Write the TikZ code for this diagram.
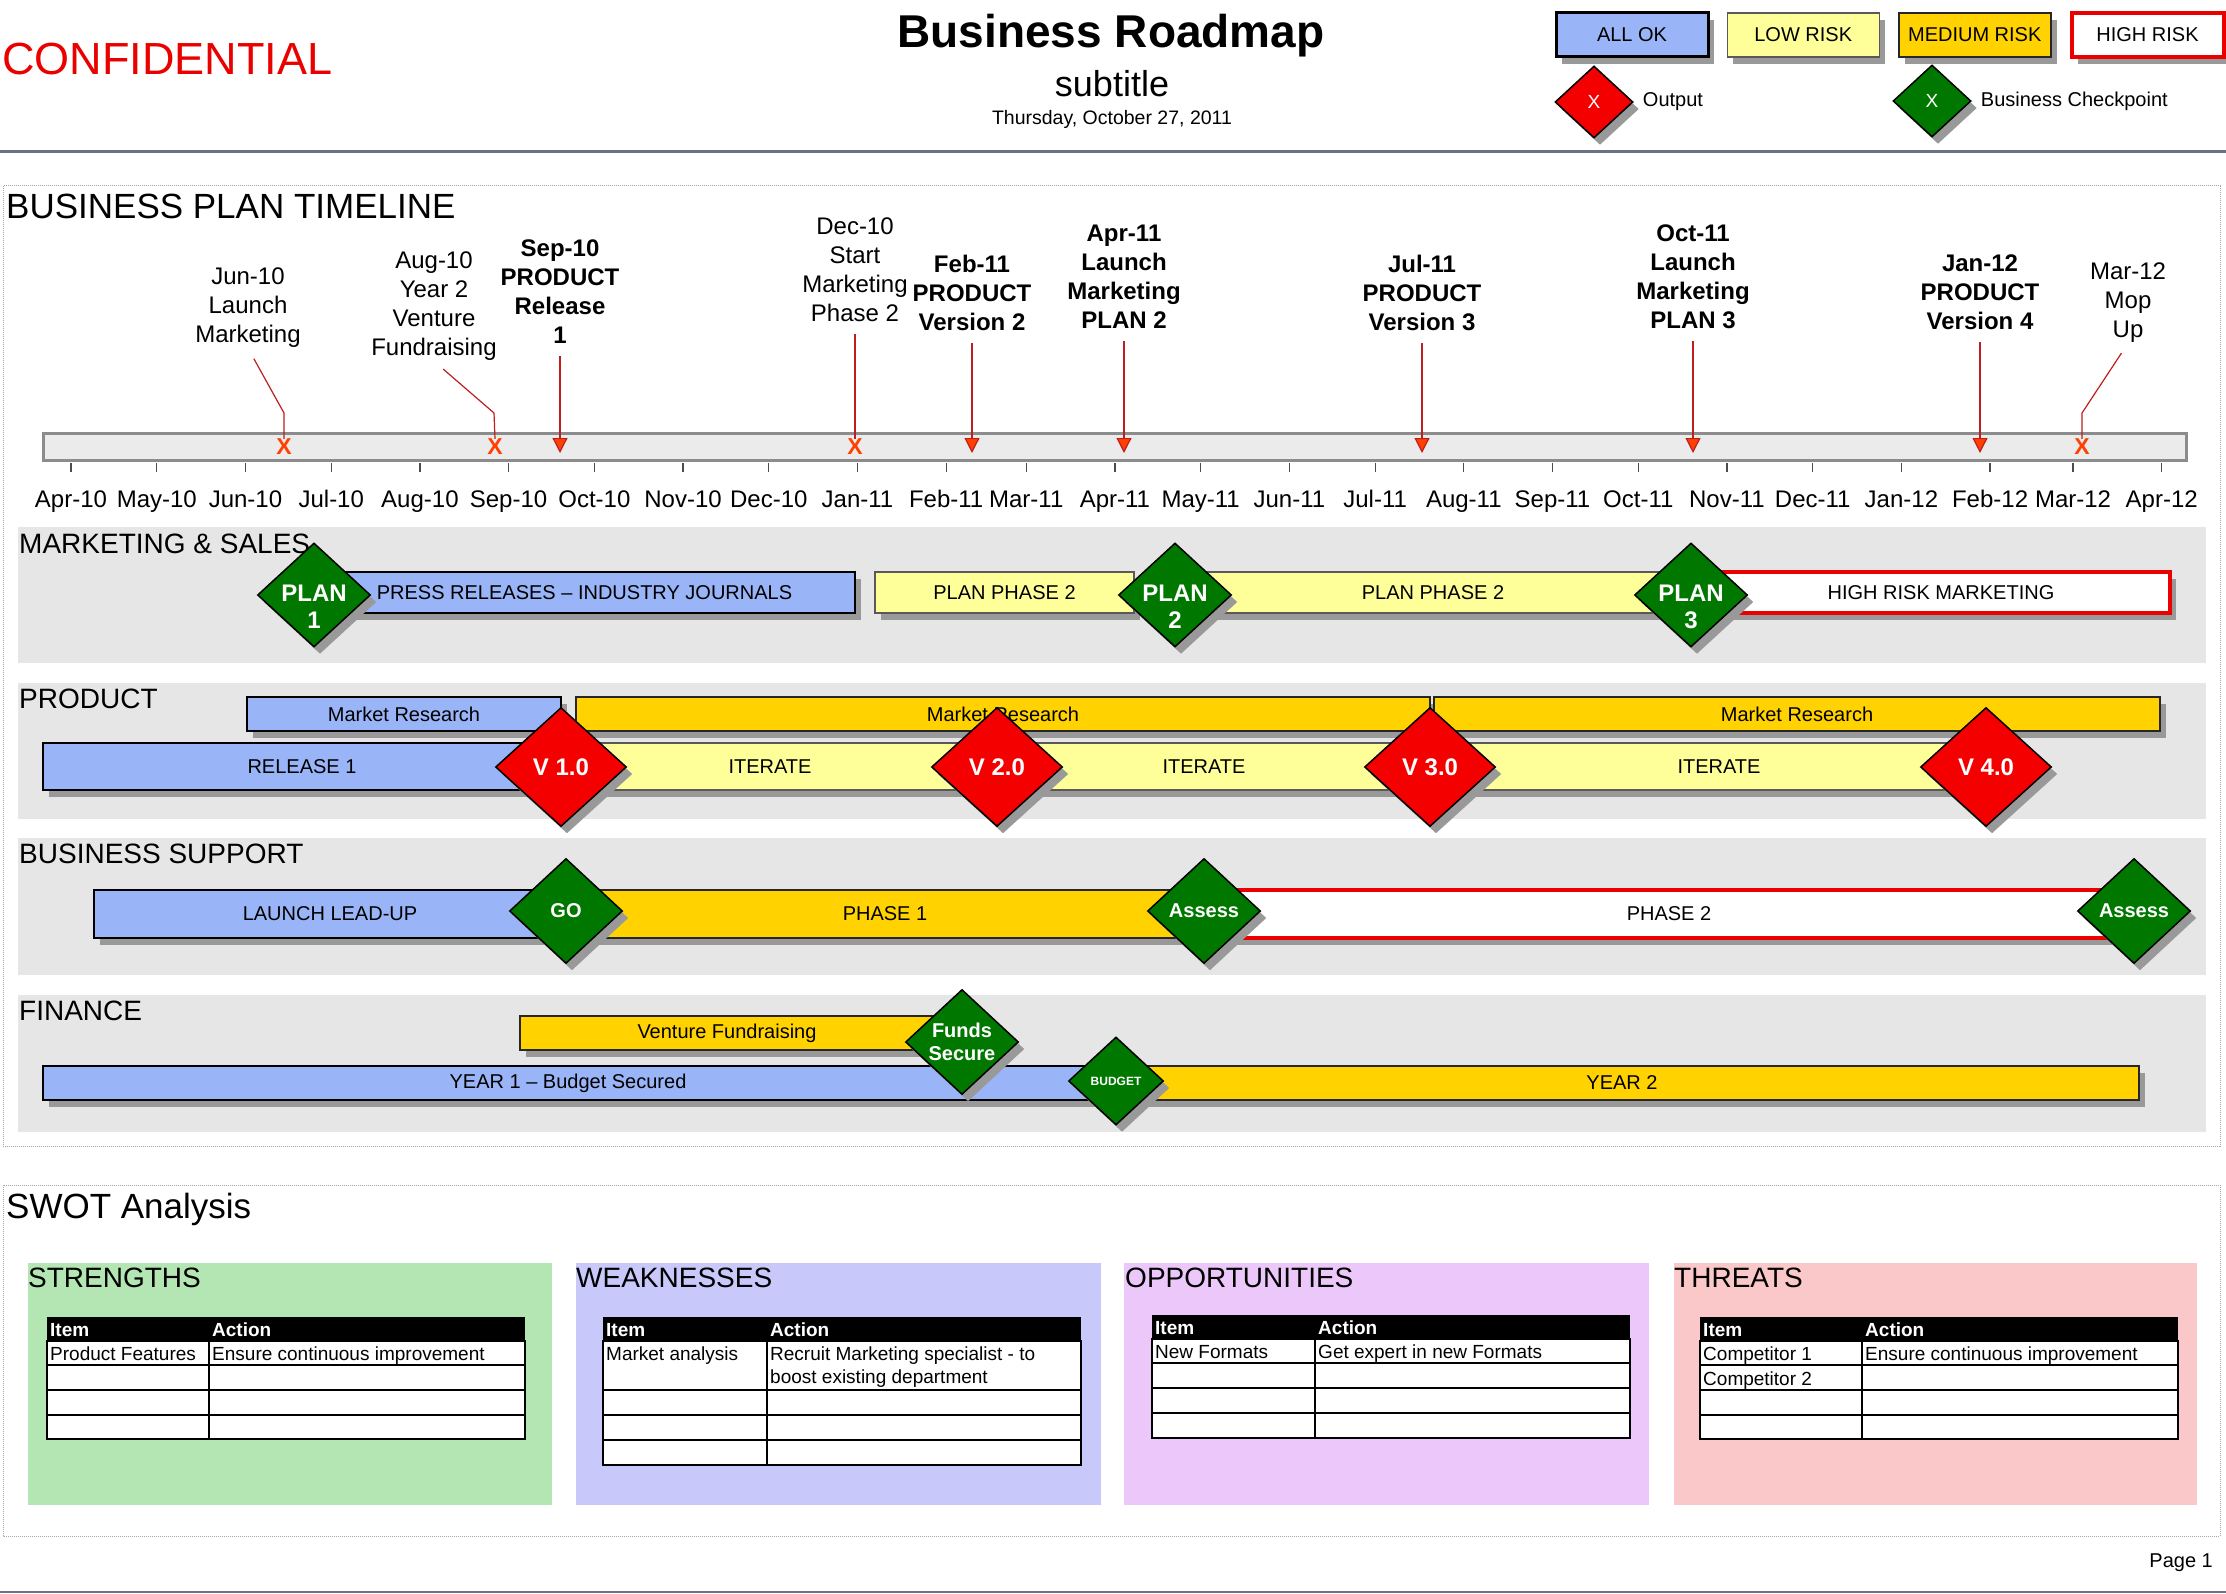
\documentclass[tikz,border=0pt]{standalone}
\usepackage{fontspec}
\setmainfont{Liberation Sans}
\usetikzlibrary{positioning,shapes.geometric,shadows,arrows.meta}

\definecolor{okblue}{RGB}{153,180,247}
\definecolor{lowyellow}{RGB}{255,255,153}
\definecolor{medgold}{RGB}{255,210,0}
\definecolor{riskred}{RGB}{235,0,0}
\definecolor{diagreen}{RGB}{0,120,0}
\definecolor{diared}{RGB}{245,0,0}
\definecolor{lanegray}{RGB}{230,230,230}
\definecolor{rulegray}{RGB}{107,112,135}
\definecolor{markred}{RGB}{255,64,0}
\definecolor{leadred}{RGB}{190,30,30}
\definecolor{strgreen}{RGB}{179,230,179}
\definecolor{weakblue}{RGB}{200,200,250}
\definecolor{opppink}{RGB}{236,200,250}
\definecolor{thrpink}{RGB}{250,200,200}

\begin{document}
\begin{tikzpicture}[
    x=1pt, y=-1pt,
    every node/.style={inner sep=0pt},
    boxshadow/.style={drop shadow={shadow xshift=6pt, shadow yshift=-7pt, fill=black!40, opacity=1}},
    barbox/.style={rectangle, boxshadow, font=\fontsize{20}{24}\selectfont},
    okbar/.style={barbox, fill=okblue, draw=black, line width=2.5pt},
    lowbar/.style={barbox, fill=lowyellow, draw=black!65, line width=1.5pt},
    medbar/.style={barbox, fill=medgold, draw=black!85, line width=1.5pt},
    highbar/.style={barbox, fill=white, draw=riskred, line width=4pt},
    checkpt/.style={diamond, aspect=1.1, fill=diagreen, draw=black, line width=1.5pt, boxshadow, text=white, align=center, font=\bfseries\fontsize{20}{23}\selectfont, minimum width=113pt, minimum height=105pt},
    plantext/.style={text=white, align=center, font=\bfseries\fontsize{24}{27}\selectfont, yshift=-12pt},
    versionpt/.style={diamond, aspect=1.1, fill=diared, draw=black, line width=1.5pt, boxshadow, text=white, font=\bfseries\fontsize{24}{28}\selectfont, minimum width=131pt, minimum height=119pt},
    keybox/.style={minimum width=152pt, minimum height=44pt},
    keydia/.style={diamond, aspect=1.08, draw=black, line width=1.5pt, boxshadow, text=white, font=\fontsize{19}{20}\selectfont, minimum width=78pt, minimum height=72pt},
    keytext/.style={font=\fontsize{20}{24}\selectfont},
    lanetitle/.style={anchor=base west, font=\fontsize{28}{34}\selectfont},
    monthlabel/.style={anchor=base, font=\fontsize{24}{29}\selectfont},
    monthtick/.style={draw=black!70, line width=1.2pt},
    eventlabel/.style={anchor=north, align=center, font=\fontsize{24}{29}\selectfont},
    keyevent/.style={eventlabel, font=\bfseries\fontsize{24}{29}\selectfont},
    leader/.style={draw=leadred, line width=1.2pt, shorten <=12pt},
    pointer/.style={leader, -{Triangle[length=15pt, width=15pt, fill=markred]}},
    xmark/.style={text=markred, font=\bfseries\fontsize{23}{24}\selectfont},
    dotframe/.style={draw=black!35, densely dotted, line width=1pt},
    boxtitle/.style={anchor=base west, font=\fontsize{28}{34}\selectfont},
    headcell/.style={anchor=base west, text=white, font=\bfseries\fontsize{19}{23}\selectfont},
    celltext/.style={anchor=base west, font=\fontsize{19}{23}\selectfont},
    tablerule/.style={draw=black, line width=1.5pt},
]

\useasboundingbox (0,0) rectangle (2226,1594);
\fill[white] (0,0) rectangle (2226,1594);

% Header
\node[anchor=base west, text=riskred, font=\fontsize{45}{54}\selectfont] (conf) at (2,75) {CONFIDENTIAL};
\node[anchor=base, font=\bfseries\fontsize{46}{55}\selectfont] (title) at (1111,48) {Business Roadmap};
\node[anchor=base, font=\fontsize{36}{43}\selectfont] (subtitle) at (1112,97) {subtitle};
\node[anchor=base, font=\fontsize{19.5}{23}\selectfont] (date) at (1112,125) {Thursday, October 27, 2011};
\draw[rulegray, line width=3pt] (0,152) -- (2226,152);

% Legend
\node[okbar, keybox, line width=3pt] (keyok) at (1632,35) {ALL OK};
\node[lowbar, keybox, right=17pt of keyok] (keylow) {LOW RISK};
\node[medbar, keybox, right=18pt of keylow] (keymed) {MEDIUM RISK};
\node[highbar, keybox, right=18pt of keymed] (keyhigh) {HIGH RISK};
\node[keydia, fill=diared] (keyout) at (1594,102) {X};
\node[keytext, right=9pt of keyout] (keyoutlbl) {Output};
\node[keydia, fill=diagreen] (keychk) at (1932,101) {X};
\node[keytext, right=9pt of keychk] (keychklbl) {Business Checkpoint};

% Timeline frame
\draw[dotframe] (3,186) rectangle (2220,1146);
\node[anchor=base west, font=\fontsize{35}{42}\selectfont] (tltitle) at (6,219) {BUSINESS PLAN TIMELINE};

% Timeline bar and months
\node[draw=black!45, fill=black!8, line width=3pt, minimum width=2143pt, minimum height=27pt] (tlbar) at (1114.5,446.5) {};
\foreach \d/\m in {0/Apr-10,30/May-10,61/Jun-10,91/Jul-10,122/Aug-10,153/Sep-10,183/Oct-10,214/Nov-10,244/Dec-10,275/Jan-11,306/Feb-11,334/Mar-11,365/Apr-11,395/May-11,426/Jun-11,456/Jul-11,487/Aug-11,518/Sep-11,548/Oct-11,579/Nov-11,609/Dec-11,640/Jan-12,671/Feb-12,700/Mar-12,731/Apr-12} {
    \draw[monthtick] ({71+2.86*\d},463) -- ++(0,9);
    \node[monthlabel] (mon-\d) at ({71+2.86*\d},507) {\m};
}

% Events
\node[eventlabel] (jun10) at (248,268) {Jun-10\\Launch\\Marketing};
\node[eventlabel] (aug10) at (434,252) {Aug-10\\Year 2\\Venture\\Fundraising};
\node[keyevent] (sep10) at (560,240) {Sep-10\\PRODUCT\\Release\\1};
\node[eventlabel] (dec10) at (855,218) {Dec-10\\Start\\Marketing\\Phase 2};
\node[keyevent] (feb11) at (972,255) {Feb-11\\PRODUCT\\Version 2};
\node[keyevent] (apr11) at (1124,225) {Apr-11\\Launch\\Marketing\\PLAN 2};
\node[keyevent] (jul11) at (1422,255) {Jul-11\\PRODUCT\\Version 3};
\node[keyevent] (oct11) at (1693,225) {Oct-11\\Launch\\Marketing\\PLAN 3};
\node[keyevent] (jan12) at (1980,255) {Jan-12\\PRODUCT\\Version 4};
\node[eventlabel] (mar12) at (2128,263) {Mar-12\\Mop\\Up};

% Event markers
\coordinate (tipline) at (0,453);
\coordinate (jun10bend) at (284,413);
\coordinate (aug10bend) at (494,413);
\coordinate (mar12bend) at (2082,413);
\node[xmark] (jun10x) at (284,447) {X};
\node[xmark] (aug10x) at (495,447) {X};
\node[xmark] (dec10x) at (855,447) {X};
\node[xmark] (mar12x) at (2082,447) {X};
\draw[leader] (jun10.south) -- (jun10bend) -- (jun10x.north);
\draw[leader] (aug10.south) -- (aug10bend) -- (aug10x.north);
\draw[leader] (dec10.south) -- (dec10x.north);
\draw[leader] (mar12.south) -- (mar12bend) -- (mar12x.north);
\foreach \ev in {sep10,feb11,apr11,jul11,oct11,jan12}
    \draw[pointer] (\ev.south) -- (\ev.south |- tipline);

% Swimlanes
\fill[lanegray] (18,527) rectangle (2206,663);
\fill[lanegray] (18,683) rectangle (2206,819);
\fill[lanegray] (18,838) rectangle (2206,975);
\fill[lanegray] (18,995) rectangle (2206,1132);
\node[lanetitle] (lanemkt) at (19,553) {MARKETING \& SALES};
\node[lanetitle] (laneprod) at (19,708) {PRODUCT};
\node[lanetitle] (lanesup) at (19,863) {BUSINESS SUPPORT};
\node[lanetitle] (lanefin) at (19,1020) {FINANCE};

% Marketing & sales
\node[okbar, minimum width=541pt, minimum height=41pt] (press) at (584.5,592.5) {PRESS RELEASES – INDUSTRY JOURNALS};
\node[lowbar, minimum width=259pt, minimum height=41pt] (mktphase2a) at (1004.5,592.5) {PLAN PHASE 2};
\node[lowbar, minimum width=516pt, minimum height=41pt] (mktphase2b) at (1433,592.5) {PLAN PHASE 2};
\node[highbar, minimum width=458pt, minimum height=41pt] (highmkt) at (1941,592.5) {HIGH RISK MARKETING};
\node[checkpt, minimum height=104pt, label={[plantext]center:PLAN\\1}] (plan1) at (314,595) {};
\node[checkpt, minimum height=104pt, label={[plantext]center:PLAN\\2}] (plan2) at (1175,595) {};
\node[checkpt, minimum height=104pt, label={[plantext]center:PLAN\\3}] (plan3) at (1691,595) {};

% Product
\node[okbar, minimum width=314pt, minimum height=34pt] (mr1) at (404,714) {Market Research};
\node[medbar, minimum width=854pt, minimum height=34pt] (mr2) at (1003,714) {Market Research};
\node[medbar, minimum width=726pt, minimum height=34pt] (mr3) at (1797,714) {Market Research};
\node[okbar, minimum width=518pt, minimum height=47pt] (rel1) at (302,766.5) {RELEASE 1};
\node[lowbar, minimum width=454pt, minimum height=47pt] (iter1) at (770,766.5) {ITERATE};
\node[lowbar, minimum width=452pt, minimum height=47pt] (iter2) at (1204,766.5) {ITERATE};
\node[lowbar, minimum width=578pt, minimum height=47pt] (iter3) at (1719,766.5) {ITERATE};
\node[versionpt] (v1) at (561,767) {V 1.0};
\node[versionpt] (v2) at (997,767) {V 2.0};
\node[versionpt] (v3) at (1430,767) {V 3.0};
\node[versionpt] (v4) at (1986,767) {V 4.0};

% Business support
\node[okbar, minimum width=472pt, minimum height=48pt] (leadup) at (330,914) {LAUNCH LEAD-UP};
\node[medbar, minimum width=638pt, minimum height=48pt] (phase1) at (885,914) {PHASE 1};
\node[highbar, minimum width=930pt, minimum height=48pt] (phase2) at (1669,914) {PHASE 2};
\node[checkpt] (go) at (566,911) {GO};
\node[checkpt] (assess1) at (1204,911) {Assess};
\node[checkpt] (assess2) at (2134,911) {Assess};

% Finance
\node[medbar, minimum width=414pt, minimum height=34pt] (venture) at (727,1033) {Venture Fundraising};
\node[okbar, minimum width=1050pt, minimum height=34pt] (year1) at (568,1083) {YEAR 1 – Budget Secured};
\node[medbar, minimum width=1034pt, minimum height=34pt] (year2) at (1622,1083) {YEAR 2};
\node[checkpt] (funds) at (962,1042) {Funds\\Secure};
\node[checkpt, minimum width=95pt, minimum height=88pt, font=\bfseries\fontsize{12}{14}\selectfont] (budget) at (1116,1081) {BUDGET};

% SWOT frame
\draw[dotframe] (3,1185) rectangle (2220,1536);
\node[anchor=base west, font=\fontsize{35}{42}\selectfont] (swottitle) at (6,1218) {SWOT Analysis};

\fill[strgreen] (28,1263) rectangle (552,1505);
\fill[weakblue] (576,1263) rectangle (1101,1505);
\fill[opppink] (1124,1263) rectangle (1649,1505);
\fill[thrpink] (1674,1263) rectangle (2197,1505);
\node[boxtitle] (strtitle) at (28,1287) {STRENGTHS};
\node[boxtitle] (weaktitle) at (576,1287) {WEAKNESSES};
\node[boxtitle] (opptitle) at (1125,1287) {OPPORTUNITIES};
\node[boxtitle] (thrtitle) at (1674,1287) {THREATS};

% Strengths table
\fill[black] (47,1317) rectangle (525,1341);
\filldraw[tablerule, fill=white] (47,1341) rectangle (525,1439);
\foreach \r in {1365,1390,1415} \draw[tablerule] (47,\r) -- (525,\r);
\draw[tablerule, line width=1.2pt] (209,1341) -- (209,1439);
\node[headcell] (stritem) at (50,1336) {Item};
\node[headcell] (straction) at (212,1336) {Action};
\node[celltext] (strrow1a) at (50,1360) {Product Features};
\node[celltext] (strrow1b) at (212,1360) {Ensure continuous improvement};

% Weaknesses table
\fill[black] (603,1317) rectangle (1081,1341);
\filldraw[tablerule, fill=white] (603,1341) rectangle (1081,1465);
\foreach \r in {1390,1415,1440} \draw[tablerule] (603,\r) -- (1081,\r);
\draw[tablerule, line width=1.2pt] (767,1341) -- (767,1465);
\node[headcell] (weakitem) at (606,1336) {Item};
\node[headcell] (weakaction) at (770,1336) {Action};
\node[celltext] (weakrow1a) at (606,1360) {Market analysis};
\node[celltext] (weakrow1b) at (770,1360) {Recruit Marketing specialist - to};
\node[celltext] (weakrow1c) at (770,1383) {boost existing department};

% Opportunities table
\fill[black] (1152,1315) rectangle (1630,1339);
\filldraw[tablerule, fill=white] (1152,1339) rectangle (1630,1438);
\foreach \r in {1363,1388,1413} \draw[tablerule] (1152,\r) -- (1630,\r);
\draw[tablerule, line width=1.2pt] (1315,1339) -- (1315,1438);
\node[headcell] (oppitem) at (1155,1334) {Item};
\node[headcell] (oppaction) at (1318,1334) {Action};
\node[celltext] (opprow1a) at (1155,1358) {New Formats};
\node[celltext] (opprow1b) at (1318,1358) {Get expert in new Formats};

% Threats table
\fill[black] (1700,1317) rectangle (2178,1341);
\filldraw[tablerule, fill=white] (1700,1341) rectangle (2178,1439);
\foreach \r in {1365,1390,1415} \draw[tablerule] (1700,\r) -- (2178,\r);
\draw[tablerule, line width=1.2pt] (1862,1341) -- (1862,1439);
\node[headcell] (thritem) at (1703,1336) {Item};
\node[headcell] (thraction) at (1865,1336) {Action};
\node[celltext] (thrrow1a) at (1703,1360) {Competitor 1};
\node[celltext] (thrrow1b) at (1865,1360) {Ensure continuous improvement};
\node[celltext] (thrrow2a) at (1703,1385) {Competitor 2};

% Footer
\node[anchor=base east, font=\fontsize{20}{24}\selectfont] (page) at (2213,1567) {Page 1};
\draw[rulegray, line width=2pt] (0,1592) -- (2226,1592);

\end{tikzpicture}
\end{document}
